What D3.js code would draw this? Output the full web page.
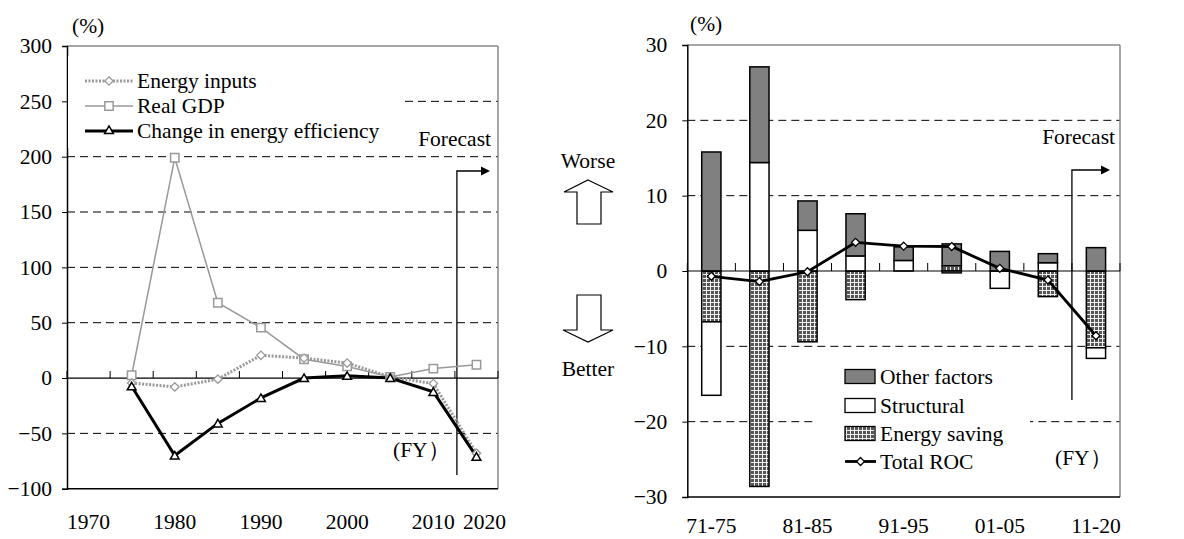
<!DOCTYPE html>
<html><head><meta charset="utf-8">
<script src="https://cdn.jsdelivr.net/npm/d3@7"></script>
<style>
body{margin:0;background:#fff;}
svg text{font-family:"Liberation Serif","Times New Roman",serif;fill:#000;}
</style></head>
<body><svg id="c" width="1184" height="539"></svg>
<script>
// ---------- DATA ----------
const years = ["1970","1975","1980","1985","1990","1995","2000","2005","2010","2020"];
const yearLabels = ["1970","1980","1990","2000","2010","2020"];
const energyInputs = [null,-4.5,-8,-1,20.5,18,13.5,1,-5,-68];
const realGDP      = [null,2.5,199,68,45.5,17,10.5,1,8.5,12];
const efficiency   = [null,-7.5,-70,-41,-18,0,2,0,-12.5,-71];
const leftTicks = [-100,-50,0,50,100,150,200,250,300];
const leftLegend = ["Energy inputs","Real GDP","Change in energy efficiency"];

const periods = ["71-75","76-80","81-85","86-90","91-95","96-00","01-05","06-10","11-20"];
const periodLabels = ["71-75","81-85","91-95","01-05","11-20"];
const otherFactors = [15.8,12.7,3.9,5.6,1.8,2.9,2.6,1.2,3.1];
const structural   = [-9.75,14.4,5.4,2.0,1.4,-0.25,-2.3,1.1,-1.4];
const energySaving = [-6.75,-28.6,-9.4,-3.8,0,0.7,0,-3.4,-10.2];
const totalROC     = [-0.7,-1.4,-0.1,3.8,3.3,3.25,0.35,-1.2,-8.6];
const rightTicks = [-30,-20,-10,0,10,20,30];
const rightLegend = ["Other factors","Structural","Energy saving","Total ROC"];

const FS = 21.5;
const svg = d3.select("#c");
const defs = svg.append("defs");
const pat = defs.append("pattern").attr("id","hatch").attr("patternUnits","userSpaceOnUse")
  .attr("width",4).attr("height",4);
pat.append("rect").attr("width",4).attr("height",4).attr("fill","#555");
pat.append("path").attr("d","M2,0h1v4h-1zM0,2h4v1h-4z").attr("fill","#eee");

function arrowHead(g, x, y){
  g.append("path").attr("d",`M${x-9},${y-4.5}L${x},${y}L${x-9},${y+4.5}Z`).attr("fill","#000");
}

// ---------- LEFT CHART ----------
const L = {x0:67, x1:498, y0:46, y1:488.7};
const xL = d3.scaleBand().domain(years).range([L.x0,L.x1]);
const yL = d3.scaleLinear().domain([-100,300]).range([L.y1,L.y0]);
const gL = svg.append("g");

gL.selectAll("line.grid").data(leftTicks.filter(v=>v!==0 && v!==-100 && v!==300)).join("line")
  .attr("x1",L.x0).attr("x2",L.x1).attr("y1",d=>yL(d)).attr("y2",d=>yL(d))
  .attr("stroke","#000").attr("stroke-width",1).attr("stroke-dasharray","8,5");
gL.append("line").attr("x1",L.x0).attr("x2",L.x1).attr("y1",L.y0).attr("y2",L.y0).attr("stroke","#888").attr("stroke-width",1.5);
gL.append("line").attr("x1",L.x1).attr("x2",L.x1).attr("y1",L.y0).attr("y2",L.y1).attr("stroke","#888").attr("stroke-width",1.5);
gL.append("line").attr("x1",L.x0).attr("x2",L.x1).attr("y1",L.y1).attr("y2",L.y1).attr("stroke","#000").attr("stroke-width",1.5);
const axL = gL.append("g").attr("transform",`translate(${L.x0},0)`)
  .call(d3.axisLeft(yL).tickValues(leftTicks).tickSize(5).tickPadding(10).tickFormat(d3.format("d")));
axL.attr("font-family",null);
axL.select(".domain").attr("stroke","#000").attr("stroke-width",1.5);
axL.selectAll("text").attr("font-size",FS).attr("dy","0.32em");
gL.append("line").attr("x1",L.x0).attr("x2",L.x1).attr("y1",yL(0)).attr("y2",yL(0)).attr("stroke","#000").attr("stroke-width",1.2);
const bL = years.map(y=>xL(y)).concat([L.x1]);
gL.selectAll("line.zt").data(bL).join("line").attr("x1",d=>d).attr("x2",d=>d)
  .attr("y1",yL(0)).attr("y2",yL(0)-7).attr("stroke","#000");
gL.selectAll("text.xl").data(yearLabels).join("text")
  .attr("x",d=>xL(d)+xL.bandwidth()/2 + (d==="2020"?8:0)).attr("y",529)
  .attr("text-anchor","middle").attr("font-size",FS).text(d=>d);
gL.append("text").attr("x",72).attr("y",33).attr("font-size",FS).text("(%)");

gL.append("rect").attr("x",L.x0+1).attr("y",56).attr("width",334).attr("height",92).attr("fill","#fff");

const fxL = xL("2010")+xL.bandwidth()+2;
gL.append("path").attr("d",`M${fxL},475V171H482`).attr("fill","none").attr("stroke","#000").attr("stroke-width",1.3);
arrowHead(gL,490,171);
gL.append("text").attr("x",491).attr("y",146).attr("text-anchor","end").attr("font-size",FS).text("Forecast");
gL.append("text").attr("x",393).attr("y",457).attr("font-size",FS).text("(FY）");

const cx = d=>xL(d)+xL.bandwidth()/2;
function lineFor(vals){
  return d3.line().defined(d=>d[1]!==null).x(d=>cx(d[0])).y(d=>yL(d[1]))(years.map((y,i)=>[y,vals[i]]));
}
gL.append("path").attr("d",lineFor(realGDP)).attr("fill","none").attr("stroke","#999").attr("stroke-width",1.5);
gL.append("path").attr("d",lineFor(energyInputs)).attr("fill","none").attr("stroke","#999").attr("stroke-width",3).attr("stroke-dasharray","2,1.5");
gL.append("path").attr("d",lineFor(efficiency)).attr("fill","none").attr("stroke","#000").attr("stroke-width",3);

const sq = d3.symbol().type(d3.symbolSquare).size(70);
const di = d3.symbol().type(d3.symbolDiamond2).size(45);
const tr = d3.symbol().type(d3.symbolTriangle2).size(55);
const pts = vals => years.map((y,i)=>[y,vals[i]]).filter(d=>d[1]!==null);
gL.selectAll("path.gdp").data(pts(realGDP)).join("path").attr("d",sq)
  .attr("transform",d=>`translate(${cx(d[0])},${yL(d[1])})`).attr("fill","#fff").attr("stroke","#999").attr("stroke-width",1.5);
gL.selectAll("path.ei").data(pts(energyInputs)).join("path").attr("d",di)
  .attr("transform",d=>`translate(${cx(d[0])},${yL(d[1])})`).attr("fill","#fff").attr("stroke","#999").attr("stroke-width",1.3);
gL.selectAll("path.ef").data(pts(efficiency)).join("path").attr("d",tr)
  .attr("transform",d=>`translate(${cx(d[0])},${yL(d[1])+1})`).attr("fill","#fff").attr("stroke","#000").attr("stroke-width",1.5);

const legY = [81,106,131];
const lx0 = 85, lx1 = 133;
gL.append("line").attr("x1",lx0).attr("x2",lx1).attr("y1",legY[0]).attr("y2",legY[0]).attr("stroke","#999").attr("stroke-width",3).attr("stroke-dasharray","2,1.5");
gL.append("path").attr("d",di).attr("transform",`translate(${(lx0+lx1)/2},${legY[0]})`).attr("fill","#fff").attr("stroke","#999").attr("stroke-width",1.3);
gL.append("line").attr("x1",lx0).attr("x2",lx1).attr("y1",legY[1]).attr("y2",legY[1]).attr("stroke","#999").attr("stroke-width",1.5);
gL.append("path").attr("d",sq).attr("transform",`translate(${(lx0+lx1)/2},${legY[1]})`).attr("fill","#fff").attr("stroke","#999").attr("stroke-width",1.5);
gL.append("line").attr("x1",lx0).attr("x2",lx1).attr("y1",legY[2]).attr("y2",legY[2]).attr("stroke","#000").attr("stroke-width",3);
gL.append("path").attr("d",tr).attr("transform",`translate(${(lx0+lx1)/2},${legY[2]})`).attr("fill","#fff").attr("stroke","#000").attr("stroke-width",1.5);
gL.selectAll("text.lg").data(leftLegend).join("text").attr("x",137).attr("y",(d,i)=>legY[i]+6.5)
  .attr("font-size",FS).text(d=>d);

// ---------- WORSE / BETTER ----------
const gM = svg.append("g");
gM.append("text").attr("x",588).attr("y",168).attr("text-anchor","middle").attr("font-size",FS).text("Worse");
gM.append("path").attr("d","M588,180L613,192H601V224H577V192H564Z").attr("fill","#fff").attr("stroke","#000").attr("stroke-width",1.2);
gM.append("path").attr("d","M577,295H601V330H613L588,342L563,330H577Z").attr("fill","#fff").attr("stroke","#000").attr("stroke-width",1.2);
gM.append("text").attr("x",588).attr("y",376).attr("text-anchor","middle").attr("font-size",FS).text("Better");

// ---------- RIGHT CHART ----------
const R = {x0:687.3, x1:1120, y0:45, y1:497};
const xR = d3.scaleBand().domain(periods).range([R.x0,R.x1]).paddingInner(0.6).paddingOuter(0.3);
const xRb = d3.scaleBand().domain(periods).range([R.x0,R.x1]);
const yR = d3.scaleLinear().domain([-30,30]).range([R.y1,R.y0]);
const gR = svg.append("g");

gR.selectAll("line.grid").data(rightTicks.filter(v=>v!==0 && v!==-30 && v!==30)).join("line")
  .attr("x1",R.x0).attr("x2",R.x1).attr("y1",d=>yR(d)).attr("y2",d=>yR(d))
  .attr("stroke","#000").attr("stroke-width",1).attr("stroke-dasharray","8,5");
gR.append("line").attr("x1",R.x0).attr("x2",R.x1).attr("y1",R.y0).attr("y2",R.y0).attr("stroke","#888").attr("stroke-width",1.5);
gR.append("line").attr("x1",R.x1).attr("x2",R.x1).attr("y1",R.y0).attr("y2",R.y1).attr("stroke","#888").attr("stroke-width",1.5);
gR.append("line").attr("x1",R.x0).attr("x2",R.x1).attr("y1",R.y1).attr("y2",R.y1).attr("stroke","#000").attr("stroke-width",1.5);
const axR = gR.append("g").attr("transform",`translate(${R.x0},0)`)
  .call(d3.axisLeft(yR).tickValues(rightTicks).tickSize(5).tickPadding(15).tickFormat(d3.format("d")));
axR.attr("font-family",null);
axR.select(".domain").attr("stroke","#000").attr("stroke-width",1.5);
axR.selectAll("text").attr("font-size",FS).attr("dy","0.32em");

gR.selectAll("text.xl").data(periodLabels).join("text")
  .attr("x",d=>xRb(d)+xRb.bandwidth()/2).attr("y",533)
  .attr("text-anchor","middle").attr("font-size",FS).text(d=>d);
gR.append("text").attr("x",690).attr("y",31).attr("font-size",FS).text("(%)");

gR.append("rect").attr("x",813).attr("y",360).attr("width",217).attr("height",115).attr("fill","#fff");

const rows = periods.map((p,i)=>({p, es:energySaving[i], st:structural[i], ot:otherFactors[i]}));
const stack = d3.stack().keys(["es","st","ot"]).offset(d3.stackOffsetDiverging);
const series = stack(rows);
const fills = {es:"url(#hatch)", st:"#fff", ot:"#808080"};
series.forEach(s=>{
  gR.selectAll(null).data(s.filter(d=>d[1]!==d[0])).join("rect")
    .attr("x",d=>xR(d.data.p)).attr("width",xR.bandwidth())
    .attr("y",d=>yR(Math.max(d[0],d[1]))).attr("height",d=>Math.abs(yR(d[0])-yR(d[1])))
    .attr("fill",fills[s.key]).attr("stroke","#000").attr("stroke-width",1.5);
});

gR.append("line").attr("x1",R.x0).attr("x2",R.x1).attr("y1",yR(0)).attr("y2",yR(0)).attr("stroke","#000").attr("stroke-width",1.2);
const bR = periods.map(p=>xRb(p)).concat([R.x1]);
gR.selectAll("line.zt").data(bR).join("line").attr("x1",d=>d).attr("x2",d=>d)
  .attr("y1",yR(0)).attr("y2",yR(0)-8).attr("stroke","#000");

const fxR = xRb("11-20");
gR.append("path").attr("d",`M${fxR},400V170H1102`).attr("fill","none").attr("stroke","#000").attr("stroke-width",1.3);
arrowHead(gR,1110,170);
gR.append("text").attr("x",1115).attr("y",144).attr("text-anchor","end").attr("font-size",FS).text("Forecast");
gR.append("text").attr("x",1055).attr("y",465).attr("font-size",FS).text("(FY）");

const cR = p=>xRb(p)+xRb.bandwidth()/2;
gR.append("path").attr("d",d3.line().x((d,i)=>cR(periods[i])).y(d=>yR(d))(totalROC))
  .attr("fill","none").attr("stroke","#000").attr("stroke-width",2.8);
const diR = d3.symbol().type(d3.symbolDiamond2).size(40);
gR.selectAll("path.tr").data(totalROC).join("path").attr("d",diR)
  .attr("transform",(d,i)=>`translate(${cR(periods[i])},${yR(d)})`).attr("fill","#fff").attr("stroke","#000").attr("stroke-width",1.3);

const rLegY = [376.5,405.5,433.5,461.5];
const sw = ["ot","st","es"];
sw.forEach((k,i)=>{
  gR.append("rect").attr("x",845).attr("y",rLegY[i]-7).attr("width",30).attr("height",14)
    .attr("fill",fills[k]).attr("stroke","#000").attr("stroke-width",1.3);
});
gR.append("line").attr("x1",845).attr("x2",876).attr("y1",rLegY[3]).attr("y2",rLegY[3]).attr("stroke","#000").attr("stroke-width",2.8);
gR.append("path").attr("d",diR).attr("transform",`translate(860.5,${rLegY[3]})`).attr("fill","#fff").attr("stroke","#000").attr("stroke-width",1.3);
gR.selectAll("text.lg").data(rightLegend).join("text").attr("x",880).attr("y",(d,i)=>rLegY[i]+7)
  .attr("font-size",FS).text(d=>d);
</script></body></html>
